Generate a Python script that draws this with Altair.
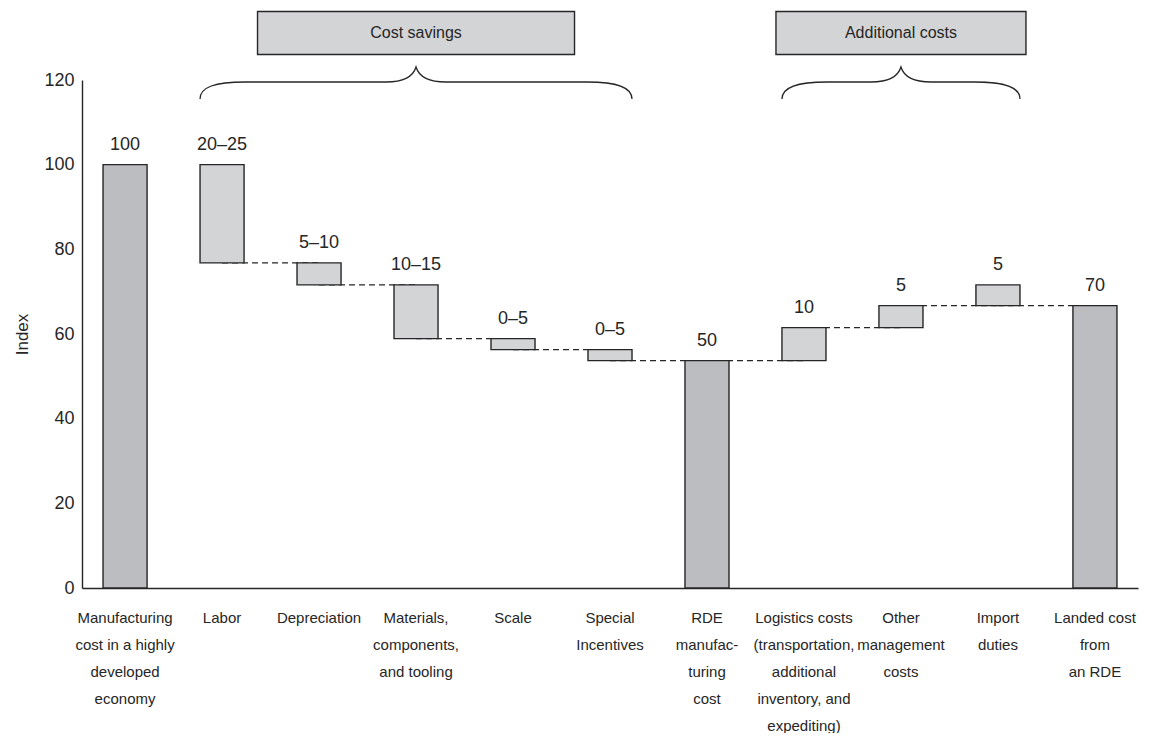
import altair as alt
import pandas as pd

# ---------------- data ----------------
categories = [
    "Manufacturing|cost in a highly|developed|economy",
    "Labor",
    "Depreciation",
    "Materials,|components,|and tooling",
    "Scale",
    "Special|Incentives",
    "RDE|manufac-|turing|cost",
    "Logistics costs|(transportation,|additional|inventory, and|expediting)",
    "Other|management|costs",
    "Import|duties",
    "Landed cost|from|an RDE",
]
bar_start = [0, 100, 76.8, 71.6, 58.9, 56.3, 0, 53.7, 61.5, 66.7, 0]
bar_end = [100, 76.8, 71.6, 58.9, 56.3, 53.7, 53.7, 61.5, 66.7, 71.6, 66.7]
bar_kind = ["total", "step", "step", "step", "step", "step",
            "total", "step", "step", "step", "total"]
value_labels = ["100", "20–25", "5–10", "10–15", "0–5", "0–5",
                "50", "10", "5", "5", "70"]

# dashed connectors: from bar i to bar i+1 at the shared level
connector_from = [1, 2, 3, 4, 5, 6, 7, 8, 9]
connector_level = [76.8, 71.6, 58.9, 56.3, 53.7, 53.7, 61.5, 66.7, 66.7]

# group annotations
group_names = ["Cost savings", "Additional costs"]
group_first = [1, 7]
group_last = [5, 9]
group_center = [3, 8]

y_ticks = [0, 20, 40, 60, 80, 100, 120]

# ---------------- layout / style ----------------
FONT = "Liberation Sans, Arial, sans-serif"
INK = "#262626"
W_PLOT, H_PLOT = 1056, 508
P_INNER, P_OUTER = 0.546, 0.217
STEP = W_PLOT / (len(categories) - P_INNER + 2 * P_OUTER)
BAND = STEP * (1 - P_INNER)
BOX_W = [317, 250]
BOX_H = 43
BOX_Y = -47      # px relative to plot top
BRACE_Y = 3      # px relative to plot top
BRACE_H = 32

df = pd.DataFrame({
    "cat": categories,
    "start": bar_start,
    "end": bar_end,
    "kind": bar_kind,
    "label": value_labels,
})
conn = pd.DataFrame({
    "src": [categories[i] for i in connector_from],
    "dst": [categories[i + 1] for i in connector_from],
    "level": connector_level,
})

x_scale = alt.Scale(domain=categories, paddingInner=P_INNER, paddingOuter=P_OUTER)
y_scale = alt.Scale(domain=[0, 120], nice=False)
y_axis = alt.Axis(values=y_ticks, title="Index")


def fmt(v):
    return f"{v:.4f}".rstrip("0").rstrip(".")


def brace_path(w, h=BRACE_H):
    s = w / 2.0
    hh = h / 2.0
    hz = -hh + 15
    pts = [
        ("M", [(-s, hh)]),
        ("C", [(-s, hh - 12), (-s + 15, hz), (-s + 45, hz)]),
        ("L", [(-30, hz)]),
        ("C", [(-12, hz), (-3, hz - 5), (0, -hh)]),
        ("C", [(3, hz - 5), (12, hz), (30, hz)]),
        ("L", [(s - 45, hz)]),
        ("C", [(s - 15, hz), (s, hh - 12), (s, hh)]),
    ]
    out = []
    for cmd, ps in pts:
        out.append(cmd + " " + " ".join(f"{fmt(x / s)} {fmt(y / s)}" for x, y in ps))
    return " ".join(out)


def box_path(w, h):
    s = w / 2.0
    a = (h / 2.0) / s
    return f"M -1 {fmt(-a)} L 1 {fmt(-a)} L 1 {fmt(a)} L -1 {fmt(a)} Z"


connectors = alt.Chart(conn).mark_rule(
    strokeDash=[6, 4], color=INK, strokeWidth=1.4
).encode(
    x=alt.X("src:N", scale=x_scale, title=None),
    x2="dst:N",
    y=alt.Y("level:Q", scale=y_scale, axis=y_axis),
)

bars = alt.Chart(df).mark_bar(stroke=INK, strokeWidth=1.4).encode(
    x=alt.X("cat:N", scale=x_scale, title=None),
    y=alt.Y("start:Q", scale=y_scale, axis=y_axis),
    y2="end:Q",
    fill=alt.Fill("kind:N",
                  scale=alt.Scale(domain=["total", "step"], range=["#bcbdc0", "#d3d4d6"]),
                  legend=None),
)

labels = alt.Chart(df).transform_calculate(
    top="max(datum.start, datum.end)"
).mark_text(dy=-20, fontSize=18, font=FONT, color=INK).encode(
    x=alt.X("cat:N", scale=x_scale, title=None),
    y=alt.Y("top:Q", scale=y_scale, axis=y_axis),
    text="label:N",
)

layers = [connectors, bars, labels]

for i, name in enumerate(group_names):
    brace_w = (group_last[i] - group_first[i]) * STEP + BAND
    gdf = pd.DataFrame({"group": [name], "center": [categories[group_center[i]]]})
    base = alt.Chart(gdf)
    brace = base.mark_point(
        shape=brace_path(brace_w), size=brace_w ** 2, filled=False,
        stroke=INK, strokeWidth=1.3, opacity=1,
    ).encode(x=alt.X("center:N", scale=x_scale, title=None), y=alt.value(BRACE_Y))
    box = base.mark_point(
        shape=box_path(BOX_W[i], BOX_H), size=BOX_W[i] ** 2, filled=True,
        fill="#d3d4d6", stroke=INK, strokeWidth=1.4, opacity=1,
    ).encode(x=alt.X("center:N", scale=x_scale, title=None), y=alt.value(BOX_Y))
    txt = base.mark_text(fontSize=16, font=FONT, color=INK).encode(
        x=alt.X("center:N", scale=x_scale, title=None),
        y=alt.value(BOX_Y),
        text="group:N",
    )
    layers += [brace, box, txt]

chart = alt.layer(*layers).properties(
    width=W_PLOT, height=H_PLOT,
    padding={"left": 5, "right": 5, "top": 0, "bottom": 0},
).configure_view(stroke=None).configure_axis(
    domainColor=INK, domainWidth=1.4, ticks=False, grid=False,
    labelFont=FONT, titleFont=FONT, labelColor=INK, titleColor=INK,
).configure_axisX(
    labelAngle=0, labelFontSize=15, labelLineHeight=27, labelPadding=22,
    labelExpr="split(datum.label, '|')", labelOverlap=False, labelLimit=220,
).configure_axisY(
    labelFontSize=18, labelPadding=8, titleFontSize=17,
    titleFontWeight="normal", titlePadding=12,
)

chart.save("out.html", embed_options={"renderer": "svg", "actions": False})
